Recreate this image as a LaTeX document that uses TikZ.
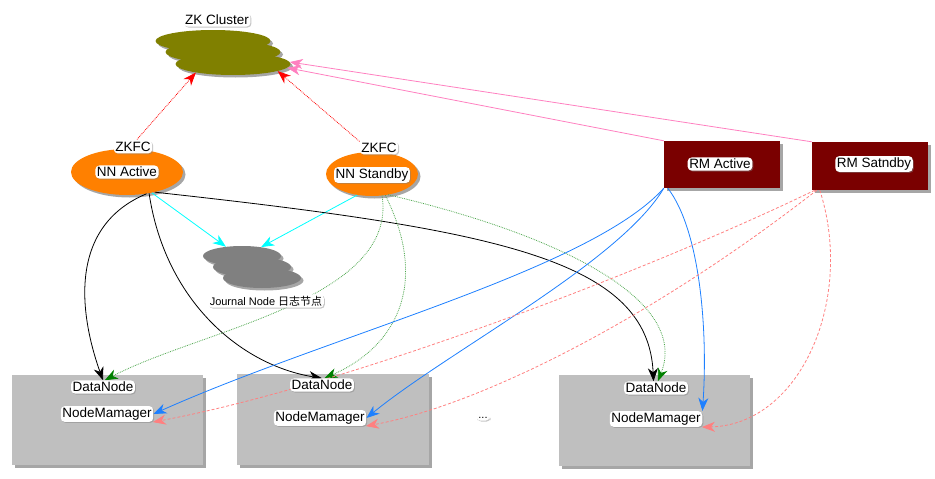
\documentclass[tikz,border=0pt]{standalone}
\usepackage{fontspec}
\setmainfont{Liberation Sans}
\newfontfamily\cjk{Noto Sans CJK SC}
\usetikzlibrary{shapes.geometric,shadows,arrows.meta}
\pgfdeclarelayer{bg}
\pgfdeclarelayer{lines}
\pgfsetlayers{bg,lines,main}
\definecolor{olivec}{HTML}{808000}
\definecolor{orangec}{HTML}{FF8000}
\definecolor{grayc}{HTML}{808080}
\definecolor{darkredc}{HTML}{7A0000}
\definecolor{boxc}{HTML}{BFBFBF}
\definecolor{cyanc}{HTML}{00FFFF}
\definecolor{greenc}{HTML}{008000}
\definecolor{bluec}{HTML}{1E80FF}
\definecolor{pinkd}{HTML}{FF8080}
\definecolor{pinks}{HTML}{FF80C0}
\begin{document}
\begin{tikzpicture}[x=1pt,y=-1pt,
  shd/.style={drop shadow={shadow xshift=2.5pt,shadow yshift=-2.5pt,opacity=0.35,fill=black}},
  lbl/.style={fill=white, rounded corners=4pt, inner sep=1.6pt, font=\fontsize{13.5}{14}\selectfont,
     drop shadow={shadow xshift=1pt,shadow yshift=-1pt,opacity=0.45}},
  slbl/.style={lbl, font=\fontsize{11}{12}\selectfont},
  cloudell/.style={ellipse, fill=#1, draw=none, inner sep=0pt, shd},
  zkell/.style={cloudell=olivec, minimum width=115pt, minimum height=22pt},
  jnell/.style={cloudell=grayc, minimum width=78pt, minimum height=20pt},
  nnell/.style={ellipse, fill=orangec, inner sep=0pt, shd},
  rmbox/.style={rectangle, fill=darkredc, inner sep=0pt, minimum width=116pt, minimum height=47pt, shd},
  dnbox/.style={rectangle, fill=boxc, inner sep=0pt, minimum width=191pt, minimum height=90pt, shd},
  tip/.style={-{Stealth[length=13pt,width=10pt,inset=4pt]}},
  reddot/.style={tip, red, densely dotted, thick},
  pinkline/.style={tip, pinks, thick},
  cyanline/.style={tip, cyanc, thick},
  blk/.style={tip, black, thick},
  grn/.style={greenc!70, densely dotted, thick, arrows={-{Stealth[length=13pt,width=10pt,inset=4pt,color=greenc]}}},
  blu/.style={tip, bluec, thick},
  pnk/.style={tip, pinkd, dash pattern=on 3pt off 2pt, thick}
]
\useasboundingbox (0,0) rectangle (935,479);

\begin{pgfonlayer}{bg}
  % ZK cluster
  \node[zkell] (zk1) at (213,41) {};
  \node[zkell] (zk2) at (223,52) {};
  \node[zkell] (zk3) at (233,64) {};
  % Journal nodes
  \node[jnell] (jn1) at (242,256) {};
  \node[jnell] (jn2) at (252,267) {};
  \node[jnell] (jn3) at (262,278) {};
  % NameNodes
  \node[nnell, minimum width=112pt, minimum height=46pt] (nna) at (127,172) {};
  \node[nnell, minimum width=92pt, minimum height=44pt] (nns) at (372,174) {};
  % RMs
  \node[rmbox] (rma) at (722,164.5) {};
  \node[rmbox, minimum height=48pt] (rms) at (870,166) {};
  % DataNode boxes
  \node[dnbox] (b1) at (107.5,420) {};
  \node[dnbox, minimum width=192pt, minimum height=91pt] (b2) at (333,419.5) {};
  \node[dnbox, minimum height=91pt] (b3) at (654.5,420.5) {};
\end{pgfonlayer}

% labels
\node[lbl] (zklbl) at (217,20) {ZK Cluster};
\node[lbl] (zkfc1) at (133,147) {ZKFC};
\node[lbl] (nnalbl) at (127,172) {NN Active};
\node[lbl] (zkfc2) at (379,148) {ZKFC};
\node[lbl] (nnslbl) at (372,175) {NN Standby};
\node[slbl] (jnlbl) at (266,301) {Journal Node {\cjk 日志节点}};
\node[lbl] (rmalbl) at (720,164) {RM Active};
\node[lbl] (rmslbl) at (874,164) {RM Satndby};
\node[lbl] (dn1) at (103,387) {DataNode};
\node[lbl] (nm1) at (107,414) {NodeMamager};
\node[lbl] (dn2) at (322,385) {DataNode};
\node[lbl] (nm2) at (320,418) {NodeMamager};
\node[lbl] (dn3) at (656,388) {DataNode};
\node[lbl] (nm3) at (656,419) {NodeMamager};
\node[lbl, font=\fontsize{11}{11}\selectfont, inner sep=2pt] (dots) at (483,418) {...};

\begin{pgfonlayer}{lines}
  % ZKFC -> ZK
  \draw[reddot] (zkfc1.north) ++(4,-1) coordinate (z1s) -- (zk3.193);
  \draw[reddot] (zkfc2.north west) -- (zk3.-9);
  % RMs -> ZK
  \draw[pinkline] (rma.north west) -- (zk3.-4);
  \draw[pinkline] (rms.north west) -- (zk3.2);
  % NN -> Journal
  \draw[cyanline] (nna.-40) -- (jn1.150);
  \draw[cyanline] (nns.235) -- (jn1.25);
  % NN Active -> DataNodes
  \draw[blk] (nna.-48) .. controls (60,230) and (85,330) .. (dn1.north);
  \draw[blk] (nna.-44) .. controls (165,300) and (240,365) .. (dn2.north);
  \draw[blk] (nna.-36) .. controls (500,230) and (648,260) .. (dn3.110);
  % NN Standby -> DataNodes
  \draw[grn] (nns.-65) .. controls (398,300) and (200,330) .. (dn1.75);
  \draw[grn] (nns.-58) .. controls (428,280) and (400,345) .. (dn2.70);
  \draw[grn] (nns.-52) .. controls (560,235) and (690,300) .. (dn3.75);
  % RM Active -> NodeManagers
  \draw[blu] (rma.south west) .. controls (590,270) and (330,335) .. (nm1.east);
  \draw[blu] (rma.south west) .. controls (620,262) and (450,350) .. (nm2.east);
  \draw[blu] (rma.south west) ++(4,0) coordinate (rb) .. controls (700,230) and (708,330) .. (nm3.north east);
  % RM Standby -> NodeManagers
  \draw[pnk] (rms.south west) ++(3,0) coordinate (p1) .. controls (650,270) and (350,385) .. (nm1.-10);
  \draw[pnk] (rms.south west) ++(5,0) coordinate (p2) .. controls (650,320) and (480,405) .. (nm2.-10);
  \draw[pnk] (rms.south west) ++(8,0) coordinate (p3) .. controls (855,300) and (800,425) .. (nm3.-10);
\end{pgfonlayer}
\end{tikzpicture}
\end{document}
